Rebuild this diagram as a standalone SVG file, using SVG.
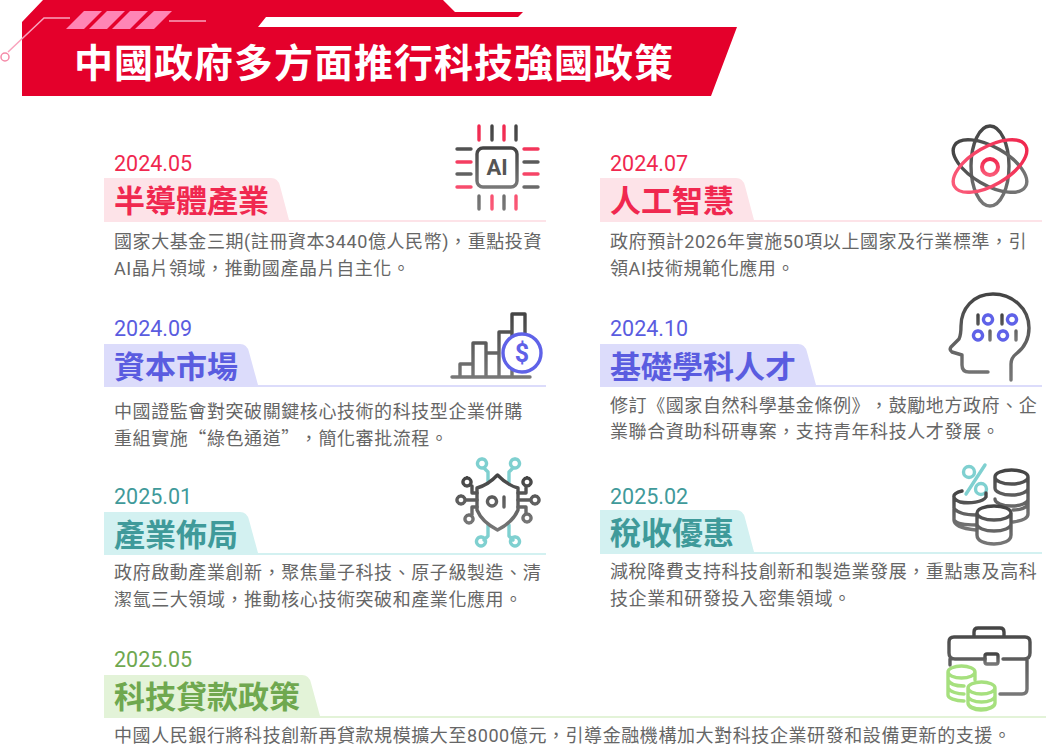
<svg xmlns="http://www.w3.org/2000/svg" width="1056" height="755" viewBox="0 0 1056 755">
<defs>
<linearGradient id="g" x1="0" y1="0" x2="0" y2="1"><stop offset="0" stop-color="#444"/><stop offset="1" stop-color="#777"/></linearGradient>
<linearGradient id="r" x1="0" y1="0" x2="0" y2="1"><stop offset="0" stop-color="#f0284f"/><stop offset="1" stop-color="#fa5a78"/></linearGradient>
</defs>
<style>
text{font-family:Roboto,"Noto Sans CJK TC",sans-serif}
.t{font-size:39px;font-weight:700;fill:#fff;letter-spacing:1px;font-family:"Noto Sans CJK TC",sans-serif}
.d{font-size:21.500px}
.h{font-size:31px;font-weight:700;font-family:"Noto Sans CJK TC",sans-serif}
.b{font-size:18px;fill:#666;letter-spacing:.58px;text-spacing-trim:space-all}
.q{font-family:"Noto Sans CJK TC",sans-serif}
.ic{fill:none;stroke-width:3.400;stroke-linecap:round;stroke-linejoin:round}
.g{stroke:url(#g)}.r{stroke:url(#r)}.bl{stroke:#5f62e8}.te{stroke:#7fd0d0}.gr{stroke:#a6e07e}
.cr{fill:#f0284f}.cb{fill:#5a5ce0}.ct{fill:#3f9a9a}.cg{fill:#6fa84f}
.fr{fill:#fde3e8}.fb{fill:#dcdcfb}.ft{fill:#d3f1f1}.fg{fill:#e3f3d8}
</style>
<g id="header">
<path d="M43 0H443L455 12H523L518 17H266L258 27H737L711 96H22V22Z" fill="#e4002b"/>
<path d="M66 29L84 11H102L84 29ZM89 29L107 11H125L107 29ZM112 29L130 11H148L130 29ZM135 29L154 11H172L154 29Z" fill="#ff85b5"/>
<path d="M8 52L44 18H70M169 21H206" fill="none" stroke="#f9a3bd" stroke-width="1.500"/>
<circle cx="5" cy="57" r="4" fill="#fff" stroke="#f58aa8" stroke-width="1.500"/>
<text class="t" x="74" y="77">中國政府多方面推行科技強國政策</text>
</g>
<g id="node-semiconductor">
<text class="d cr" x="114" y="171">2024.05</text>
<path class="fr" d="M104 178H271Q278 178 280 186L289 220H546V222H104Z"/>
<text class="h cr" x="114" y="212">半導體產業</text>
<text class="b" x="114" y="248">國家大基金三期(註冊資本3440億人民幣)，重點投資</text>
<text class="b" x="114" y="275">AI晶片領域，推動國產晶片自主化。</text>
<g class="ic"><rect class="g" x="477" y="148" width="40" height="39" rx="6"/>
<path class="g" d="M492 126V140M516 126V140M479 196V209M504 196V209M457 149H471M457 174H471M524 162H538M524 187H538"/>
<path class="r" d="M479 126V140M504 126V140M492 196V209M516 196V209M457 162H471M457 187H471M524 149H538M524 174H538"/></g>
<text x="497" y="175" text-anchor="middle" font-size="22" font-weight="700" fill="#555">AI</text>
</g>
<g id="node-ai">
<text class="d cr" x="610" y="171">2024.07</text>
<path class="fr" d="M600 178H736Q743 178 745 186L754 220H1042V222H600Z"/>
<text class="h cr" x="610" y="212">人工智慧</text>
<text class="b" x="610" y="248">政府預計2026年實施50項以上國家及行業標準，引</text>
<text class="b" x="610" y="275">領AI技術規範化應用。</text>
<g class="ic"><ellipse class="g" cx="990" cy="166" rx="19" ry="40"/>
<ellipse class="g" cx="990" cy="166" rx="19" ry="41" transform="rotate(-60 990 166)"/>
<ellipse class="r" cx="990" cy="166" rx="19" ry="41" transform="rotate(60 990 166)"/>
<circle class="r" cx="990" cy="167" r="8" stroke-width="4"/></g>
</g>
<g id="node-capital">
<text class="d cb" x="114" y="336">2024.09</text>
<path class="fb" d="M104 344H240Q247 344 249 352L258 385H546V387H104Z"/>
<text class="h cb" x="114" y="378">資本市場</text>
<text class="b" x="114" y="418">中國證監會對突破關鍵核心技術的科技型企業併購</text>
<text class="b" x="114" y="445">重組實施<tspan class="q">“</tspan>綠色通道<tspan class="q">”</tspan>，簡化審批流程。</text>
<g class="ic"><path class="g" d="M452 377H530M460 377V364H473M473 377V343H486V377M486 353H499M499 377V332H512V377M512 332V314H525V334"/>
<circle cx="522" cy="353" r="19" fill="#fff" class="bl"/></g>
<text x="522" y="362" text-anchor="middle" font-size="25" font-weight="700" fill="#5f62e8">$</text>
</g>
<g id="node-basic-science">
<text class="d cb" x="610" y="336">2024.10</text>
<path class="fb" d="M600 344H798Q805 344 807 352L816 385H1042V387H600Z"/>
<text class="h cb" x="610" y="378">基礎學科人才</text>
<text class="b" x="610" y="412">修訂《國家自然科學基金條例》，鼓勵地方政府、企</text>
<text class="b" x="610" y="438">業聯合資助科研專案，支持青年科技人才發展。</text>
<g class="ic"><path class="g" d="M1011 380V364Q1011 358 1016 354C1024 348 1029 339 1029 328C1029 308 1012 294 993 294C973 294 961 309 961 326C961 331 961 335 959 339L951 347Q949 350 952 352L962 355V365Q962 372 969 372H988"/>
<path class="g" d="M978 315V324M1002 315V324M990 331V340M1016 331V340"/>
<path class="bl" d="M988 315a4.500 4.500 0 1 0 .01 0M1012 315a4.500 4.500 0 1 0 .01 0M978 331a4.500 4.500 0 1 0 .01 0M1003 331a4.500 4.500 0 1 0 .01 0"/></g>
</g>
<g id="node-industry">
<text class="d ct" x="114" y="504">2025.01</text>
<path class="ft" d="M104 512H240Q247 512 249 520L258 553H546V555H104Z"/>
<text class="h ct" x="114" y="546">產業佈局</text>
<text class="b" x="114" y="579">政府啟動產業創新，聚焦量子科技、原子級製造、清</text>
<text class="b" x="114" y="606">潔氫三大領域，推動核心技術突破和產業化應用。</text>
<g class="ic"><path class="te" d="M488 483V472L484 468M509 483V472L513 468M488 525V536L484 540M509 525V536L513 540M482 459a4.500 4.500 0 1 0 .01 0M515 459a4.500 4.500 0 1 0 .01 0M481 537a4.500 4.500 0 1 0 .01 0M515 537a4.500 4.500 0 1 0 .01 0"/>
<path class="g" d="M497.500 475Q488 485 477 488V510Q482 522 497.500 530Q513 522 518 510V488Q507 485 497.500 475Z"/>
<path class="g" d="M492 497a4.500 4.500 0 1 0 .01 0M504 497V507M477 500H466M461 496a4 4 0 1 0 .01 0M477 493H472V486M467 478a4 4 0 1 0 .01 0M477 507H472V515M469 515a4 4 0 1 0 .01 0M518 500H530M535 496a4 4 0 1 0 .01 0M518 493H526V486M527 478a4 4 0 1 0 .01 0M518 507H526V514M527 514a4 4 0 1 0 .01 0"/></g>
</g>
<g id="node-tax">
<text class="d ct" x="610" y="504">2025.02</text>
<path class="ft" d="M600 510H736Q743 510 745 518L754 552H1042V554H600Z"/>
<text class="h ct" x="610" y="544">稅收優惠</text>
<text class="b" x="610" y="578">減稅降費支持科技創新和製造業發展，重點惠及高科</text>
<text class="b" x="610" y="605">技企業和研發投入密集領域。</text>
<g class="ic"><path class="te" d="M966 494L985 465"/><circle class="te" cx="969" cy="472" r="5.500"/><circle class="te" cx="981" cy="489" r="5.500"/>
<path class="g" d="M995 477a16.500 7 0 0 1 33 0a16.500 7 0 0 1-33 0M995 477V488M1028 477V514Q1028 520 1013 522M995 488a16.500 7 0 0 0 33 0M995 499a16.500 7 0 0 0 33 0M1013 510a15 7 0 0 0 15-6"/>
<path class="g" d="M962 491C950 494 953 499 960 502C970 504 983 502 986 497V493M954 497V520C954 526 965 529 976 530M954 508C957 513 965 515 976 515M954 520C957 524 965 525 976 525"/>
<path class="g" d="M977 513a17 7 0 0 1 34 0a17 7 0 0 1-34 0M977 513V535C977 541 985 544 994 544C1003 544 1011 541 1011 535V513M977 524a17 7 0 0 0 34 0"/></g>
</g>
<g id="node-loans">
<text class="d cg" x="114" y="667">2025.05</text>
<path class="fg" d="M104 675H302Q309 675 311 683L320 716H1046V718H104Z"/>
<text class="h cg" x="114" y="708">科技貸款政策</text>
<text class="b" x="114" y="742">中國人民銀行將科技創新再貸款規模擴大至8000億元，引導金融機構加大對科技企業研發和設備更新的支援。</text>
<g class="ic"><path class="g" d="M974 637V632Q974 628 978 628H1000Q1004 628 1004 632V637M985 659H955Q949 659 949 653V642Q949 637 954 637H1025Q1030 637 1030 642V653Q1030 659 1024 659H1003M950 659V665M1027 659V689Q1027 694 1022 694H1000"/>
<rect class="g" x="985" y="654" width="13" height="10" rx="2"/>
<path class="gr" d="M948 672a13.500 6 0 0 1 27 0a13.500 6 0 0 1-27 0M948 672V695C948 698 955 701 964 701M948 680C950 685 958 686 964 686M948 688C950 692 958 694 964 694M975 672V680"/>
<path class="gr" d="M968 688a13.500 6 0 0 1 27 0a13.500 6 0 0 1-27 0M968 688V703C968 707 974 710 981 710C988 710 995 707 995 703V688M968 696a13.500 6 0 0 0 27 0M968 703a13.500 6 0 0 0 27 0"/></g>
</g>
</svg>
